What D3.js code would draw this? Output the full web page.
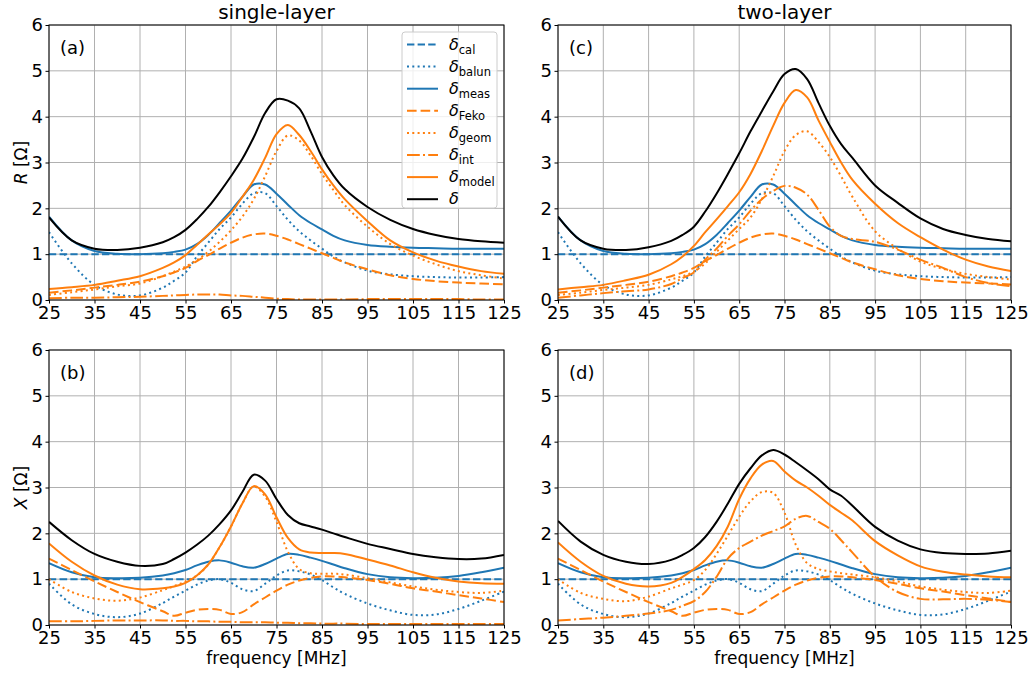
<!DOCTYPE html>
<html>
<head>
<meta charset="utf-8">
<script src="https://cdn.jsdelivr.net/npm/d3@7"></script>
<style>
  body { margin: 0; background: #fff; }
  svg text { font-family: "DejaVu Sans", sans-serif; fill: #000; }
</style>
</head>
<body>
<div id="chart"></div>
<script>
// Frequency grid (MHz) that the curves were read at
const freq = [25, 30, 35, 40, 45, 50, 52.5, 55, 57.5, 60, 62.5, 65, 67.5, 70, 72.5, 75, 77.5, 80, 82.5, 85, 87.5, 90, 95, 100, 105, 110, 115, 120, 125];

// R [Ohm] - shared by both layers
const rCal   = freq.map(() => 1);
const rMeas  = [1.82, 1.3, 1.07, 1.01, 1.0, 1.02, 1.05, 1.1, 1.22, 1.42, 1.68, 1.95, 2.25, 2.52, 2.52, 2.32, 2.08, 1.85, 1.68, 1.54, 1.4, 1.3, 1.2, 1.16, 1.14, 1.13, 1.12, 1.12, 1.12];
const rBalun = [1.48, 0.8, 0.33, 0.12, 0.1, 0.27, 0.42, 0.6, 0.95, 1.25, 1.55, 1.8, 2.1, 2.33, 2.33, 2.05, 1.75, 1.5, 1.3, 1.12, 0.95, 0.82, 0.64, 0.56, 0.52, 0.5, 0.49, 0.49, 0.5];
const rFeko  = [0.16, 0.21, 0.27, 0.33, 0.4, 0.52, 0.6, 0.7, 0.85, 0.98, 1.12, 1.25, 1.36, 1.43, 1.45, 1.4, 1.32, 1.22, 1.12, 1.02, 0.92, 0.82, 0.67, 0.54, 0.46, 0.41, 0.38, 0.36, 0.34];

// R, single-layer
const rGeom1  = [0.11, 0.17, 0.23, 0.3, 0.36, 0.52, 0.62, 0.73, 0.87, 1.05, 1.27, 1.52, 1.82, 2.2, 2.7, 3.25, 3.59, 3.48, 3.15, 2.75, 2.4, 2.07, 1.6, 1.22, 0.97, 0.78, 0.63, 0.54, 0.47];
const rInt1   = [0.04, 0.05, 0.05, 0.06, 0.07, 0.09, 0.1, 0.11, 0.12, 0.12, 0.12, 0.1, 0.09, 0.07, 0.05, 0.03, 0.02, 0.01, 0.01, 0.01, 0.01, 0.01, 0.02, 0.02, 0.02, 0.02, 0.02, 0.01, 0.01];
const rModel1 = [0.24, 0.28, 0.33, 0.42, 0.52, 0.7, 0.82, 0.98, 1.2, 1.43, 1.65, 1.9, 2.25, 2.62, 3.1, 3.62, 3.82, 3.6, 3.25, 2.85, 2.5, 2.2, 1.72, 1.3, 1.04, 0.86, 0.73, 0.63, 0.57];
const rTotal1 = [1.8, 1.3, 1.12, 1.09, 1.14, 1.26, 1.37, 1.53, 1.76, 2.03, 2.35, 2.7, 3.08, 3.55, 4.08, 4.38, 4.35, 4.18, 3.68, 3.12, 2.72, 2.42, 2.03, 1.75, 1.55, 1.42, 1.33, 1.28, 1.25];

// R, two-layer
const rGeom2  = [0.11, 0.16, 0.22, 0.27, 0.33, 0.45, 0.52, 0.62, 0.8, 1.05, 1.3, 1.55, 1.8, 2.2, 2.7, 3.25, 3.6, 3.68, 3.45, 3.12, 2.7, 2.25, 1.5, 1.12, 0.84, 0.68, 0.57, 0.5, 0.45];
const rInt2   = [0.05, 0.1, 0.15, 0.19, 0.23, 0.35, 0.48, 0.6, 0.88, 1.12, 1.4, 1.65, 1.95, 2.2, 2.38, 2.49, 2.45, 2.3, 1.97, 1.6, 1.4, 1.33, 1.27, 1.1, 0.88, 0.7, 0.5, 0.37, 0.3];
const rModel2 = [0.23, 0.28, 0.33, 0.43, 0.55, 0.78, 0.95, 1.18, 1.48, 1.76, 2.05, 2.35, 2.75, 3.25, 3.8, 4.3, 4.58, 4.42, 3.92, 3.45, 3.0, 2.62, 2.1, 1.68, 1.37, 1.1, 0.88, 0.73, 0.63];
const rTotal2 = [1.82, 1.3, 1.12, 1.09, 1.15, 1.29, 1.42, 1.6, 1.93, 2.32, 2.75, 3.2, 3.68, 4.12, 4.55, 4.93, 5.04, 4.82, 4.3, 3.8, 3.4, 3.1, 2.5, 2.12, 1.78, 1.55, 1.42, 1.33, 1.28];

// X [Ohm] - shared by both layers
const xCal   = freq.map(() => 1);
const xMeas  = [1.35, 1.15, 1.04, 1.02, 1.03, 1.08, 1.13, 1.2, 1.3, 1.38, 1.41, 1.36, 1.28, 1.25, 1.33, 1.45, 1.55, 1.53, 1.47, 1.4, 1.32, 1.24, 1.11, 1.04, 1.02, 1.03, 1.07, 1.15, 1.25];
const xBalun = [0.9, 0.45, 0.24, 0.17, 0.25, 0.48, 0.62, 0.75, 0.88, 0.97, 1.0, 0.92, 0.78, 0.74, 0.9, 1.08, 1.19, 1.17, 1.1, 0.98, 0.82, 0.68, 0.47, 0.32, 0.22, 0.23, 0.35, 0.53, 0.73];
const xFeko  = [1.45, 1.2, 0.95, 0.72, 0.5, 0.3, 0.2, 0.27, 0.33, 0.35, 0.33, 0.24, 0.28, 0.45, 0.6, 0.75, 0.88, 0.97, 1.03, 1.06, 1.06, 1.04, 0.98, 0.9, 0.8, 0.73, 0.65, 0.58, 0.5];

// X, single-layer
const xGeom1  = [1.0, 0.72, 0.58, 0.53, 0.6, 0.76, 0.85, 0.95, 1.08, 1.32, 1.7, 2.15, 2.65, 3.02, 2.8, 2.25, 1.6, 1.22, 1.13, 1.12, 1.12, 1.1, 1.02, 0.93, 0.84, 0.77, 0.72, 0.7, 0.75];
const xInt1   = [0.08, 0.08, 0.09, 0.1, 0.1, 0.1, 0.09, 0.09, 0.08, 0.08, 0.07, 0.07, 0.06, 0.06, 0.06, 0.05, 0.05, 0.04, 0.04, 0.03, 0.03, 0.03, 0.02, 0.02, 0.02, 0.02, 0.02, 0.02, 0.02];
const xModel1 = [1.78, 1.38, 1.08, 0.88, 0.78, 0.8, 0.84, 0.92, 1.08, 1.32, 1.7, 2.15, 2.65, 3.03, 2.85, 2.35, 1.9, 1.65, 1.58, 1.57, 1.57, 1.55, 1.43, 1.3, 1.15, 1.03, 0.95, 0.91, 0.9];
const xTotal1 = [2.25, 1.85, 1.55, 1.38, 1.29, 1.33, 1.44, 1.58, 1.75, 1.95, 2.2, 2.5, 2.9, 3.28, 3.15, 2.75, 2.4, 2.22, 2.15, 2.08, 2.0, 1.92, 1.77, 1.66, 1.55, 1.48, 1.44, 1.45, 1.53];

// X, two-layer
const xGeom2  = [1.0, 0.7, 0.57, 0.52, 0.62, 0.8, 0.88, 0.98, 1.2, 1.55, 1.95, 2.36, 2.7, 2.9, 2.88, 2.45, 1.75, 1.35, 1.22, 1.17, 1.13, 1.1, 1.04, 0.95, 0.84, 0.77, 0.72, 0.7, 0.75];
const xInt2   = [0.1, 0.13, 0.16, 0.2, 0.25, 0.33, 0.42, 0.52, 0.72, 1.05, 1.45, 1.68, 1.82, 1.95, 2.05, 2.15, 2.32, 2.38, 2.25, 2.1, 1.85, 1.58, 1.05, 0.72, 0.57, 0.56, 0.57, 0.55, 0.5];
const xModel2 = [1.8, 1.38, 1.07, 0.9, 0.84, 0.92, 1.05, 1.22, 1.42, 1.72, 2.15, 2.75, 3.2, 3.5, 3.58, 3.35, 3.15, 3.0, 2.82, 2.62, 2.45, 2.28, 1.83, 1.52, 1.28, 1.16, 1.1, 1.06, 1.04];
const xTotal2 = [2.27, 1.82, 1.53, 1.38, 1.33, 1.42, 1.53, 1.68, 1.92, 2.25, 2.65, 3.08, 3.42, 3.7, 3.82, 3.72, 3.55, 3.37, 3.18, 2.96, 2.82, 2.6, 2.14, 1.84, 1.65, 1.57, 1.55, 1.56, 1.62];

const xTicks = [25, 35, 45, 55, 65, 75, 85, 95, 105, 115, 125];
const yTicks = [0, 1, 2, 3, 4, 5, 6];

// line styles, in drawing / legend order
const blue = '#1f77b4', orange = '#ff7f0e';
const series = [
    { key: 'cal',   sub: 'cal',   color: blue,   dash: '7.4,3.2' },
    { key: 'balun', sub: 'balun', color: blue,   dash: '2,3.3' },
    { key: 'meas',  sub: 'meas',  color: blue,   dash: null },
    { key: 'feko',  sub: 'Feko',  color: orange, dash: '9.6,4' },
    { key: 'geom',  sub: 'geom',  color: orange, dash: '2,3.3' },
    { key: 'int',   sub: 'int',   color: orange, dash: '12.8,3.2,2,3.2' },
    { key: 'model', sub: 'model', color: orange, dash: null },
    { key: 'total', sub: '',      color: '#000', dash: null }
];

const panels = [
    { tag: '(a)', col: 0, row: 0, title: 'single-layer', ylab: 'R', legend: true,
      data: { cal: rCal, balun: rBalun, meas: rMeas, feko: rFeko, geom: rGeom1, int: rInt1, model: rModel1, total: rTotal1 } },
    { tag: '(c)', col: 1, row: 0, title: 'two-layer',
      data: { cal: rCal, balun: rBalun, meas: rMeas, feko: rFeko, geom: rGeom2, int: rInt2, model: rModel2, total: rTotal2 } },
    { tag: '(b)', col: 0, row: 1, ylab: 'X', xlab: true,
      data: { cal: xCal, balun: xBalun, meas: xMeas, feko: xFeko, geom: xGeom1, int: xInt1, model: xModel1, total: xTotal1 } },
    { tag: '(d)', col: 1, row: 1, xlab: true,
      data: { cal: xCal, balun: xBalun, meas: xMeas, feko: xFeko, geom: xGeom2, int: xInt2, model: xModel2, total: xTotal2 } }
];

const cols = [{ x0: 49, x1: 504 }, { x0: 558, x1: 1011 }];
const rows = [{ y0: 25, y1: 300 }, { y0: 350, y1: 625 }];

const svg = d3.select('#chart').append('svg')
    .attr('width', 1034)
    .attr('height', 678);

panels.forEach((p, i) => {
    const c = cols[p.col], r = rows[p.row];
    const x = d3.scaleLinear().domain([25, 125]).range([c.x0, c.x1]);
    const y = d3.scaleLinear().domain([0, 6]).range([r.y1, r.y0]);
    const g = svg.append('g');

    // grid
    g.append('g').selectAll('line').data(xTicks).enter().append('line')
        .attr('x1', d => x(d)).attr('x2', d => x(d))
        .attr('y1', r.y0).attr('y2', r.y1)
        .attr('stroke', '#b0b0b0').attr('stroke-width', 1);
    g.append('g').selectAll('line').data(yTicks).enter().append('line')
        .attr('x1', c.x0).attr('x2', c.x1)
        .attr('y1', d => y(d)).attr('y2', d => y(d))
        .attr('stroke', '#b0b0b0').attr('stroke-width', 1);

    // curves
    const clipId = 'clip' + i;
    svg.append('clipPath').attr('id', clipId).append('rect')
        .attr('x', c.x0).attr('y', r.y0)
        .attr('width', c.x1 - c.x0).attr('height', r.y1 - r.y0);

    const line = d3.line()
        .x((d, j) => x(freq[j]))
        .y(d => y(d))
        .curve(d3.curveCatmullRom.alpha(0.5));

    const lines = g.append('g').attr('clip-path', `url(#${clipId})`);
    series.forEach(s => {
        lines.append('path')
            .attr('d', line(p.data[s.key]))
            .attr('fill', 'none')
            .attr('stroke', s.color)
            .attr('stroke-width', 2)
            .attr('stroke-dasharray', s.dash);
    });

    // axes
    const xAxis = g.append('g')
        .attr('transform', `translate(0,${r.y1})`)
        .call(d3.axisBottom(x).tickValues(xTicks).tickSize(3.5).tickPadding(2.7).tickFormat(d3.format('d')));
    const yAxis = g.append('g')
        .attr('transform', `translate(${c.x0},0)`)
        .call(d3.axisLeft(y).tickValues(yTicks).tickSize(3.5).tickPadding(2.5).tickFormat(d3.format('d')));
    [xAxis, yAxis].forEach(a => {
        a.select('.domain').remove();
        a.selectAll('text').attr('font-size', 18).attr('font-family', '"DejaVu Sans", sans-serif');
        a.selectAll('line').attr('stroke', '#000').attr('stroke-width', 1);
    });

    // frame
    g.append('rect')
        .attr('x', c.x0).attr('y', r.y0)
        .attr('width', c.x1 - c.x0).attr('height', r.y1 - r.y0)
        .attr('fill', 'none').attr('stroke', '#000').attr('stroke-width', 1);

    // panel tag
    g.append('text')
        .attr('x', c.x0 + 11).attr('y', r.y0 + 29)
        .attr('font-size', 18)
        .text(p.tag);

    if (p.title) {
        g.append('text')
            .attr('x', (c.x0 + c.x1) / 2).attr('y', 19)
            .attr('text-anchor', 'middle')
            .attr('font-size', 20)
            .text(p.title);
    }
    if (p.ylab) {
        const t = g.append('text')
            .attr('transform', `translate(27,${(r.y0 + r.y1) / 2}) rotate(-90)`)
            .attr('text-anchor', 'middle')
            .attr('font-size', 17);
        t.append('tspan').attr('font-style', 'italic').text(p.ylab);
        t.append('tspan').text(' [Ω]');
    }
    if (p.xlab) {
        g.append('text')
            .attr('x', (c.x0 + c.x1) / 2).attr('y', 664)
            .attr('text-anchor', 'middle')
            .attr('font-size', 17)
            .text('frequency [MHz]');
    }

    if (p.legend) {
        const lg = g.append('g');
        lg.append('rect')
            .attr('x', 402).attr('y', 32)
            .attr('width', 95).attr('height', 176)
            .attr('rx', 3)
            .attr('fill', '#fff').attr('fill-opacity', 0.8)
            .attr('stroke', '#cccccc').attr('stroke-width', 1);
        series.forEach((s, k) => {
            const cy = 44.5 + k * 22.1;
            lg.append('line')
                .attr('x1', 407).attr('x2', 438)
                .attr('y1', cy).attr('y2', cy)
                .attr('stroke', s.color).attr('stroke-width', 2)
                .attr('stroke-dasharray', s.dash);
            const t = lg.append('text')
                .attr('x', 449).attr('y', cy + 5)
                .attr('font-size', 16);
            t.append('tspan').attr('font-style', 'italic').text('δ');
            if (s.sub) {
                t.append('tspan').attr('font-size', 11.5).attr('dy', 4).text(s.sub);
            }
        });
    }
});
</script>
</body>
</html>
